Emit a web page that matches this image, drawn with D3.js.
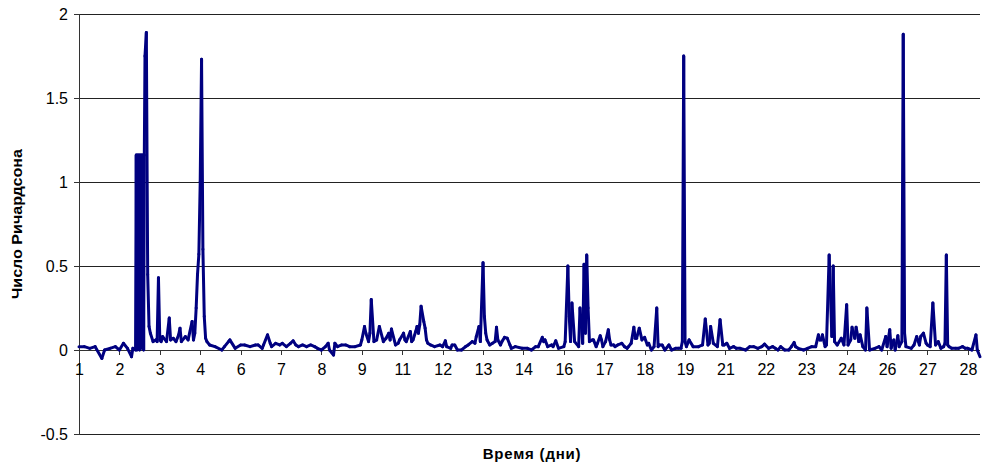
<!DOCTYPE html>
<html>
<head>
<meta charset="utf-8">
<script src="https://cdn.jsdelivr.net/npm/d3@7/dist/d3.min.js"></script>
<style>
  body { margin: 0; background: #fff; }
  text { font-family: "Liberation Sans", Arial, sans-serif; }
</style>
</head>
<body>
<svg id="chart" width="982" height="463"></svg>
<script>
// Richardson number readings (hour from start, value)
var hours = [0,4,8,12,17,19,23,27,30,33,36,39,40,42,
  42.5,43,43.5,44,44.5,45,45.5,46,46.5,47,47.5,48,48.5,49,50,51,52,53,55,57,58,59,60,61,62,65,67,68,70,72,74,75,76,79,81,84,85,86,87,88,89,90,91,92,93,94,95,
  97,101,106,108,111,112,116,120,123,127,131,133,136,137,140,142,143,146,149,151,154,157,159,161,163,166,169,172,175,177,180,
  183,185,186,189,190,192,195,198,201,205,209,210,212,213,215,216,217,219,221,223,226,228,230,231,232,235,237,238,241,242,243,
  246,247,248,250,251,252,253,254,256,257,258,259,261,264,268,270,272,273,276,277,279,281,284,287,289,292,294,295,297,298,300,
  301,302,303,305,307,309,310,311,313,314,316,318,320,321,324,329,333,336,339,341,344,345,346,348,351,352,354,356,360,361,363,
  364,365,366,368,371,372,374,375,376,377,378,379,381,382,384,385,387,388,389,391,393,394,395,397,398,400,403,405,407,408,410,
  412,413,414,416,418,419,420,422,423,425,427,429,430,431,433,435,438,440,443,445,447,448,449,450,451,453,456,460,463,465,467,
  468,469,471,474,476,478,479,481,483,486,488,491,495,498,501,504,507,509,512,515,517,519,521,524,527,529,531,532,534,538,541,
  544,547,549,550,551,552,554,555,557,559,560,561,563,566,568,570,571,573,574,576,577,579,580,582,584,585,587,591,594,596,599,
  600,602,603,605,606,608,609,611,612,613,614,618,620,622,624,625,627,629,630,632,634,636,638,640,642,643,644,645,646,648,651,653,656,658,
  660,663,666,667,669];
var ri = [0.02,0.02,0.01,0.02,-0.05,0.0,0.01,0.02,0.0,0.04,0.01,-0.04,0.01,0.0,
  1.16,0.0,1.16,0.02,1.16,0.0,1.16,0.01,1.16,0.03,1.16,0.0,1.16,1.75,1.89,0.45,0.14,0.1,0.05,0.06,0.05,0.43,0.06,0.05,0.08,0.05,0.19,0.06,0.07,0.05,0.09,0.13,0.05,0.08,0.06,0.17,0.06,0.1,0.25,0.45,0.57,1.0,1.73,0.6,0.2,0.07,0.05,
  0.03,0.02,0.0,0.02,0.05,0.06,0.01,0.03,0.03,0.02,0.03,0.03,0.01,0.03,0.09,0.04,0.02,0.04,0.03,0.04,0.02,0.04,0.055,0.03,0.02,0.03,0.02,0.03,0.02,0.01,0.0,
  0.02,0.04,0.0,-0.03,0.04,0.02,0.03,0.03,0.02,0.02,0.03,0.06,0.14,0.1,0.05,0.1,0.3,0.05,0.06,0.14,0.05,0.07,0.1,0.06,0.125,0.03,0.04,0.06,0.1,0.06,0.05,
  0.11,0.05,0.06,0.11,0.14,0.1,0.15,0.26,0.17,0.13,0.06,0.04,0.03,0.02,0.03,0.02,0.055,0.02,0.01,0.03,0.03,0.0,0.0,0.02,0.03,0.05,0.04,0.08,0.14,0.05,0.52,
  0.2,0.1,0.06,0.03,0.04,0.05,0.135,0.06,0.03,0.05,0.075,0.07,0.03,0.01,0.02,0.01,0.01,0.0,0.02,0.02,0.075,0.05,0.06,0.02,0.03,0.02,0.055,0.01,0.02,0.05,0.5,
  0.2,0.05,0.28,0.05,0.02,0.25,0.04,0.51,0.1,0.565,0.25,0.05,0.06,0.06,0.02,0.04,0.085,0.06,0.02,0.05,0.12,0.06,0.03,0.03,0.02,0.03,0.04,0.02,0.01,0.02,0.04,
  0.135,0.07,0.07,0.13,0.06,0.07,0.075,0.03,0.04,0.0,0.02,0.25,0.02,0.03,0.03,0.0,0.03,0.0,0.01,0.01,0.01,0.05,1.75,0.05,0.02,0.06,0.02,0.02,0.03,0.185,0.03,
  0.04,0.14,0.04,0.02,0.18,0.03,0.03,0.04,0.01,0.02,0.01,0.01,0.0,0.02,0.02,0.01,0.02,0.035,0.01,0.02,0.01,0.0,0.02,0.0,0.0,0.02,0.045,0.02,0.01,0.0,0.01,
  0.02,0.02,0.09,0.06,0.06,0.09,0.02,0.03,0.565,0.08,0.5,0.05,0.03,0.07,0.03,0.27,0.03,0.06,0.135,0.07,0.135,0.05,0.09,0.02,0.0,0.25,0.0,0.01,0.02,0.0,0.08,
  0.02,0.12,0.01,0.06,0.0,0.085,0.02,0.05,1.88,0.1,0.02,0.01,0.03,0.08,0.03,0.08,0.1,0.04,0.03,0.02,0.28,0.03,0.05,0.01,0.02,0.04,0.565,0.03,0.02,0.01,0.01,0.01,0.02,0.01,
  0.01,0.0,0.09,0.0,-0.04];

// category labels every 30 hours (day number)
var tickLabels = ["1","2","3","4","6","7","8","9","11","12","13","14","16","17","18","19","21","22","23","24","26","27","28"];
var tickStep = 30;
var yTicks = [-0.5, 0, 0.5, 1, 1.5, 2];

var svg = d3.select("#chart");
var plotL = 79, plotR = 980, plotT = 14, plotB = 434;

var x = d3.scaleLinear().domain([0, 669]).range([plotL, plotR]);
var y = d3.scaleLinear().domain([-0.5, 2]).range([plotB, plotT]);

// grid lines
svg.append("g")
    .selectAll("line")
    .data(yTicks)
    .enter().append("line")
    .attr("x1", plotL).attr("x2", plotR)
    .attr("y1", function(d){ return y(d); })
    .attr("y2", function(d){ return y(d); })
    .attr("stroke", "#222")
    .attr("stroke-width", 1)
    .attr("shape-rendering", "crispEdges");

// y axis
var yAxis = svg.append("g")
    .attr("transform", "translate(" + plotL + ",0)")
    .call(d3.axisLeft(y).tickValues(yTicks).tickSize(5).tickPadding(6)
        .tickFormat(function(d){ return String(d); }));
yAxis.selectAll("path, line").attr("stroke", "#333").attr("shape-rendering", "crispEdges");
yAxis.selectAll("text").attr("font-size", 16).attr("fill", "#000");

// x axis at zero
var tickHours = tickLabels.map(function(d, i){ return i * tickStep; });
var xAxis = svg.append("g")
    .attr("transform", "translate(0," + y(0) + ")")
    .call(d3.axisBottom(x).tickValues(tickHours).tickSize(5).tickPadding(9)
        .tickFormat(function(d, i){ return tickLabels[i]; }));
xAxis.select("path.domain").attr("d", "M" + plotL + ",0H" + plotR);
xAxis.selectAll("path, line").attr("stroke", "#333").attr("shape-rendering", "crispEdges");
xAxis.selectAll("text").attr("font-size", 16).attr("fill", "#000");

// series, drawn segment by segment (a single zigzag path leaves holes in the dense part)
var points = hours.map(function(h, i){ return [h, ri[i]]; });
svg.append("g")
    .selectAll("line")
    .data(d3.pairs(points))
    .enter().append("line")
    .attr("x1", function(d){ return x(d[0][0]); })
    .attr("y1", function(d){ return y(d[0][1]); })
    .attr("x2", function(d){ return x(d[1][0]); })
    .attr("y2", function(d){ return y(d[1][1]); })
    .attr("stroke", "#000080")
    .attr("stroke-width", 3)
    .attr("stroke-linecap", "round");

// axis titles
svg.append("text")
    .attr("x", 532).attr("y", 459)
    .attr("text-anchor", "middle")
    .attr("font-size", 15).attr("font-weight", "bold")
    .attr("letter-spacing", 0.8)
    .text("Время (дни)");

svg.append("text")
    .attr("transform", "translate(22,224) rotate(-90)")
    .attr("text-anchor", "middle")
    .attr("font-size", 14).attr("font-weight", "bold")
    .attr("textLength", 150).attr("lengthAdjust", "spacingAndGlyphs")
    .text("Число Ричардсона");
</script>
</body>
</html>
